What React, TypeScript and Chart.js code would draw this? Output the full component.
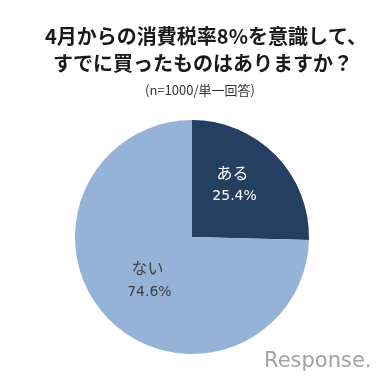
import React, { useEffect, useRef } from "react";
import { Chart, registerables } from "chart.js";

Chart.register(...registerables);

const titleLines = ["4月からの消費税率8%を意識して、", "すでに買ったものはありますか？"];
const subtitleText = "(n=1000/単一回答)";
const categories = ["ある", "ない"];
const values = [25.4, 74.6];
const sliceColors = ["#243F60", "#95B3D7"];
const labelColors = ["#FFFFFF", "#404040"];
const watermark = "Response.";

const labelNudge = [
  [-7, -5],
  [5, -4],
];

const textPlugin = {
  id: "textPlugin",
  afterDraw(chart: any) {
    const ctx = chart.ctx;
    ctx.save();
    ctx.textAlign = "center";
    ctx.textBaseline = "middle";
    ctx.fillStyle = "#1a1a1a";
    ctx.font = "bold 20px 'Noto Sans CJK JP', sans-serif";
    ctx.fillText(titleLines[0], 206, 36);
    ctx.fillText(titleLines[1], 203, 63);
    ctx.fillStyle = "#333";
    ctx.font = "13px 'Noto Sans CJK JP', sans-serif";
    ctx.fillText(subtitleText, 200, 90);

    const meta = chart.getDatasetMeta(0);
    meta.data.forEach((arc: any, i: number) => {
      const p = arc.getProps(["x", "y", "startAngle", "endAngle", "outerRadius"], true);
      const mid = (p.startAngle + p.endAngle) / 2;
      const r = p.outerRadius * 0.58;
      const cx = p.x + Math.cos(mid) * r + labelNudge[i][0];
      const cy = p.y + Math.sin(mid) * r + labelNudge[i][1];
      ctx.fillStyle = labelColors[i];
      ctx.font = "16px 'Noto Sans CJK JP', sans-serif";
      ctx.fillText(categories[i], cx - 1, cy - 12);
      ctx.font = "14px 'DejaVu Sans', sans-serif";
      ctx.fillText(values[i].toFixed(1) + "%", cx + 1, cy + 12);
    });

    ctx.fillStyle = "#a3a3a3";
    ctx.font = "21px 'DejaVu Sans', sans-serif";
    ctx.textAlign = "left";
    ctx.fillText(watermark, 264, 362);
    ctx.restore();
  },
};

export default function App() {
  const ref = useRef<HTMLCanvasElement>(null);
  useEffect(() => {
    document.body.style.margin = "0";
    const chart = new Chart(ref.current!, {
      type: "pie",
      data: {
        labels: categories,
        datasets: [
          {
            data: values,
            backgroundColor: sliceColors,
            borderWidth: 0,
          },
        ],
      },
      options: {
        animation: false,
        responsive: false,
        layout: { padding: { left: 75, right: 76, top: 120, bottom: 31 } },
        plugins: {
          legend: { display: false },
          tooltip: { enabled: false },
          title: { display: false },
        },
      },
      plugins: [textPlugin],
    });
    return () => chart.destroy();
  }, []);
  return (
    <div style={{ width: 385, height: 385, background: "#fff" }}>
      <canvas ref={ref} width={385} height={385} />
    </div>
  );
}
